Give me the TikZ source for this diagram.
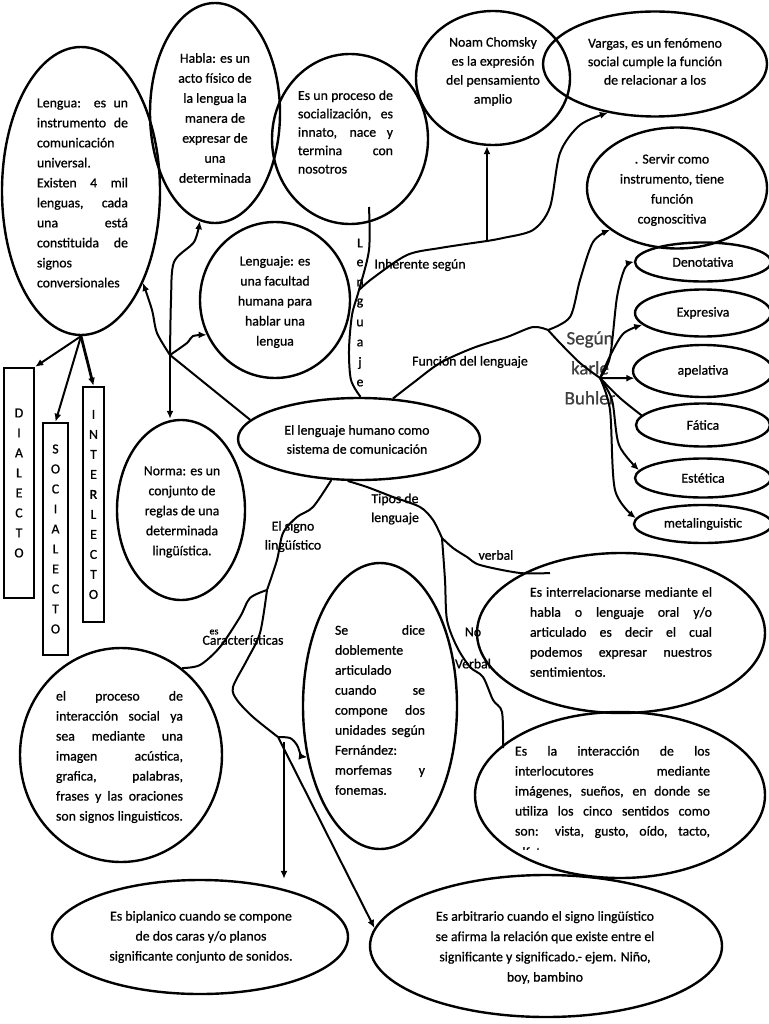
\documentclass[tikz,border=0pt]{standalone}
\usepackage{fontspec}
\setmainfont{Carlito}[FakeBold=0.8]
\usetikzlibrary{shapes.geometric, arrows.meta}

\newcommand{\jst}[2]{\makebox[#1pt][s]{#2}}

\begin{document}
\begin{tikzpicture}[x=1pt, y=-1pt,
	bub/.style={draw, ellipse, line width=2.4pt, inner sep=0pt},
	txt/.style={font=\fontsize{13.8}{20}\selectfont, align=center, inner sep=0pt},
	tag/.style={font=\fontsize{13.8}{19}\selectfont, align=center, inner sep=0pt},
	lettbox/.style={draw, line width=2.5pt, inner sep=0pt, font=\fontsize{13.8}{20}\selectfont, align=center},
	wire/.style={line width=2pt},
	conn/.style={wire, -{Latex[length=8pt, width=7pt]}}]
	\useasboundingbox (0,0) rectangle (768,1024);
	\definecolor{buhlercol}{rgb}{0.25,0.25,0.25}

	\node[bub, minimum width=158, minimum height=288] (lengua) at (81,191) {};
	\node[bub, minimum width=130, minimum height=220] (habla) at (215,113) {};
	\node[bub, minimum width=156, minimum height=170] (proceso) at (350,139) {};
	\node[bub, minimum width=154, minimum height=134] (chomsky) at (493,78) {};
	\node[bub, minimum width=224, minimum height=105] (vargas) at (655,64) {};
	\node[bub, minimum width=180, minimum height=121] (servir) at (677,188) {};
	\node[bub, minimum width=150, minimum height=156] (lenguaje) at (275,300) {};
	\node[bub, minimum width=242, minimum height=82] (central) at (359,439) {};
	\node[bub, minimum width=128, minimum height=180] (norma) at (181,510) {};
	\node[bub, minimum width=154, minimum height=286] (sedice) at (380,706) {};
	\node[bub, minimum width=288, minimum height=160] (interrel) at (621,633) {};
	\node[bub, minimum width=290, minimum height=166] (interac) at (620,795) {};
	\node[bub, minimum width=202, minimum height=214] (procint) at (121,755) {};
	\node[bub, minimum width=296, minimum height=114] (biplan) at (200,937) {};
	\node[bub, minimum width=352, minimum height=142] (arbitr) at (546,946) {};

	\foreach \n/\y/\h/\w/\t in {denot/262/39/136/Denotativa, expr/313/47/136/Expresiva, apel/371/52/140/apelativa, fatica/425/43/134/Fática, estet/478/39/136/Estética, meta/524/38/138/metalinguistic} {
		\node[bub, txt, minimum width=\w, minimum height=\h] (\n) at (703,\y) {\t};
	}

	\node[lettbox, minimum width=30, minimum height=230] (dialecto) at (19,483) {D\\I\\A\\L\\E\\C\\T\\O};
	\node[lettbox, minimum width=25, minimum height=232] (socialecto) at (55.5,539) {S\\O\\C\\I\\A\\L\\E\\C\\T\\O};
	\node[lettbox, minimum width=21, minimum height=235] (interlecto) at (93.5,504.5) {I\\N\\T\\E\\R\\L\\E\\C\\T\\O};

	\node[txt, align=left] (lenguat) at (82.5,193) {\jst{91}{Lengua: es un}\\\jst{91}{instrumento de}\\comunicación\\universal.\\\jst{91}{Existen 4 mil}\\\jst{91}{lenguas, cada}\\\jst{91}{una está}\\\jst{91}{constituida de}\\signos\\conversionales};
	\node[txt] (hablat) at (215,118) {Habla: es un\\acto físico de\\la lengua la\\manera de\\expresar de\\una\\determinada};
	\node[txt, align=left, font=\fontsize{13.8}{18.4}\selectfont] (procesot) at (345.5,132) {\jst{95}{Es un proceso de}\\\jst{95}{socialización, es}\\\jst{95}{innato, nace y}\\\jst{95}{termina con}\\nosotros};
	\node[txt, font=\fontsize{13.8}{19}\selectfont] (chomskyt) at (493,71.5) {Noam Chomsky\\es la expresión\\del pensamiento\\amplio};
	\node[txt, font=\fontsize{13.8}{18.5}\selectfont] (vargast) at (655,61.5) {Vargas, es un fenómeno\\social cumple la función\\de relacionar a los};
	\node[txt] (servirt) at (672,190) {. Servir como\\instrumento, tiene\\función\\cognoscitiva};
	\node[txt] (lenguajet) at (275,302) {Lenguaje: es\\una facultad\\humana para\\hablar una\\lengua};
	\node[txt, font=\fontsize{13.8}{19}\selectfont] (centralt) at (357,439.5) {El lenguaje humano como\\sistema de comunicación};
	\node[txt] (normat) at (182,512) {Norma: es un\\conjunto de\\reglas de una\\determinada\\lingüística.};
	\node[txt, align=left] (sedicet) at (380,710) {\jst{90}{Se dice}\\doblemente\\articulado\\\jst{90}{cuando se}\\\jst{90}{compone dos}\\\jst{90}{unidades según}\\Fernández:\\\jst{90}{morfemas y}\\fonemas.};
	\node[txt, align=left] (interrelt) at (621,632) {\jst{182}{Es interrelacionarse mediante el}\\\jst{182}{habla o lenguaje oral y/o}\\\jst{182}{articulado es decir el cual}\\\jst{182}{podemos expresar nuestros}\\sentimientos.};
	\node[txt, align=left] (interact) at (612.5,792) {\jst{195}{Es la interacción de los}\\\jst{195}{interlocutores mediante}\\\jst{195}{imágenes, sueños, en donde se}\\\jst{195}{utiliza los cinco sentidos como}\\\jst{195}{son: vista, gusto, oído, tacto,}};
	\begin{scope}
		\clip (500,835) rectangle (720,849);
		\node[txt, anchor=west] (olfato) at (515,852) {olfato};
	\end{scope}
	\node[txt, align=left] (procintt) at (119.5,757) {\jst{127}{el proceso de}\\\jst{127}{interacción social ya}\\\jst{127}{sea mediante una}\\\jst{127}{imagen acústica,}\\\jst{127}{grafica, palabras,}\\\jst{127}{frases y las oraciones}\\\jst{127}{son signos linguisticos.}};
	\node[txt] (biplant) at (201,937) {Es biplanico cuando se compone\\de dos caras y/o planos\\significante conjunto de sonidos.};
	\node[txt, font=\fontsize{13.8}{20.3}\selectfont] (arbitrt) at (545,947.5) {Es arbitrario cuando el signo lingüístico\\se afirma la relación que existe entre el\\significante y significado.- ejem. Niño,\\boy, bambino};

	\foreach \c [count=\i] in {L,e,n,g,u,a,j,e}
		\node[tag] (lg\i) at (360,{223+20*\i}) {\c};
	\node[tag] (inhl) at (420,265) {Inherente según};
	\node[tag] (funl) at (470,362) {Función del lenguaje};
	\node[tag, font=\fontsize{19}{30}\selectfont, text=buhlercol] (buhler) at (590,368) {Según\\karle\\Buhler};
	\node[tag] (signol) at (293,536.5) {El signo\\lingüístico};
	\node[tag] (caract) at (243,640) {Características};
	\node[tag, font=\fontsize{10}{12}\selectfont] (esl) at (214,632) {es};
	\node[tag] (tiposl) at (395,509) {Tipos de\\lenguaje};
	\node[tag] (verbl) at (496,555) {verbal};
	\node[tag, font=\fontsize{13.8}{32}\selectfont] (noverbl) at (473,648) {No\\Verbal};

	\coordinate (j1) at (170,355);
	\coordinate (lgtop) at (369,207);
	\coordinate (inh0) at (359,290);
	\coordinate (inhj) at (487,241);
	\coordinate (fj) at (548,330);
	\coordinate (bj) at (600,378);
	\coordinate (sj) at (267,590);
	\coordinate (kj) at (278,737);
	\coordinate (kv) at (284,742);
	\coordinate (tj) at (442,538);
	\coordinate (vend) at (550,573);
	\coordinate (nvend) at (503,748);

	\draw[wire] (central.170) -- (j1);
	\draw[conn] plot[smooth] coordinates {(j1) (157,333) (152,310) (lengua.-56)};
	\draw[conn] plot[smooth] coordinates {(j1) (187,343) (193,336) (lenguaje.207)};
	\draw[conn] plot[smooth] coordinates {(j1) (171,300) (174,262) (194,242) (habla.-98)};
	\draw[conn] (j1) -- (j1 |- norma.north);

	\draw[conn] (lengua.south) -- (dialecto.north east);
	\draw[conn] (lengua.south) -- (socialecto.north);
	\draw[conn, line width=2.8pt] (lengua.south) -- (interlecto.north);

	\draw[wire] plot[smooth] coordinates {(lgtop) (369,250) (inh0) (352,315) (349,350) (351,380) (central.88)};
	\draw[wire] plot[smooth] coordinates {(inh0) (373,278) (407,255) (440,248) (inhj)};
	\draw[conn] (inhj) -- (inhj |- chomsky.south);
	\draw[conn] plot[smooth] coordinates {(inhj) (503,238) (533,230) (550,207) (560,153) (580,125) (vargas.-134)};

	\draw[wire] plot[smooth] coordinates {(central.50) (413,383) (440,363) (473,348) (507,337) (533,327) (fj)};
	\draw[conn] plot[smooth] coordinates {(fj) (570,317) (580,280) (593,242) (servir.212)};
	\draw[wire] plot[smooth] coordinates {(fj) (560,343) (580,363) (bj)};
	\draw[conn] plot[smooth] coordinates {(bj) (610,357) (617,297) (625,268) (denot.west)};
	\draw[conn] plot[smooth] coordinates {(bj) (612,352) (624,333) (expr.191)};
	\draw[conn] (bj) -- (apel.186);
	\draw[wire] plot[smooth] coordinates {(bj) (620,398) (fatica.171)};
	\draw[conn] plot[smooth] coordinates {(bj) (612,400) (619,445) (estet.173)};
	\draw[conn] plot[smooth] coordinates {(bj) (610,410) (615,490) (meta.175)};

	\draw[wire] plot[smooth] coordinates {(central.236) (313,507) (297,517) (283,533) (277,560) (sj)};
	\draw[wire] plot[smooth] coordinates {(sj) (250,598) (240,617) (220,647) (200,665) (procint.55)};
	\draw[wire] plot[smooth] coordinates {(sj) (260,633) (247,660) (233,687) (237,700) (253,717) (kj)};
	\draw[conn] plot[smooth] coordinates {(kj) (290,738) (297,745) (301,755) (sedice.215)};
	\draw[conn] (kv) -- (kv |- biplan.north);
	\draw[conn] (kj) -- (arbitr.174);

	\draw[wire] plot[smooth] coordinates {(central.255) (367,487) (393,497) (420,507) (433,520) (tj)};
	\draw[wire] plot[smooth] coordinates {(tj) (453,548) (467,557) (480,565) (520,573) (vend)};
	\draw[wire] plot[smooth] coordinates {(tj) (445,580) (447,620) (457,647) (470,667) (483,677) (493,700) (502,712) (nvend)};
\end{tikzpicture}
\end{document}
